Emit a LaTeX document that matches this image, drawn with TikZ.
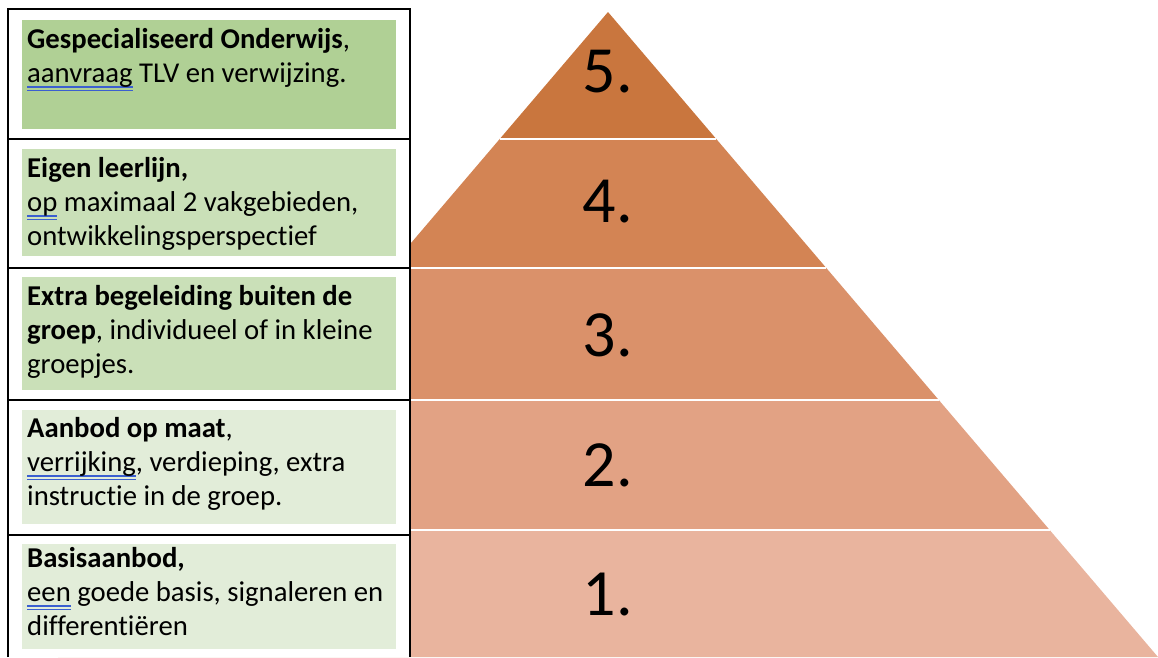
\documentclass[tikz,border=0pt]{standalone}
\usepackage{fontspec}
\setmainfont{Carlito}[Ligatures=NoCommon]
\usepackage{tikz}

\definecolor{levelfive}{HTML}{C9763E}
\definecolor{levelfour}{HTML}{D38454}
\definecolor{levelthree}{HTML}{DA916A}
\definecolor{leveltwo}{HTML}{E2A284}
\definecolor{levelone}{HTML}{E9B49E}
\definecolor{greendark}{HTML}{B0D095}
\definecolor{greenmid}{HTML}{CAE0B8}
\definecolor{greenlight}{HTML}{E2EDD9}
\definecolor{spellblue}{HTML}{3B5FD0}

\newsavebox{\spellbox}
\newcommand{\spellmark}[1]{\sbox{\spellbox}{#1}\rlap{\textcolor{spellblue}{\rule[-5pt]{\wd\spellbox}{1.1pt}}}\rlap{\textcolor{spellblue}{\rule[-8.5pt]{\wd\spellbox}{1.1pt}}}\usebox{\spellbox}}

\begin{document}
\begin{tikzpicture}[x=1pt, y=-1pt,
    levelnum/.style={font=\fontsize{66}{66}\selectfont, inner sep=0},
    celltext/.style={anchor=north west, inner sep=0, align=left, font=\fontsize{28.7}{34}\selectfont},
    gap/.style={white, line width=2.5pt},
    rule/.style={black, line width=1.1pt}]
    \useasboundingbox (0,0) rectangle (1158,657);

    \fill[levelone] (58,657) -- (166.3,530) -- (1049.7,530) -- (1158,657) -- cycle;
    \fill[leveltwo] (166.3,530) -- (277.2,400) -- (938.8,400) -- (1049.7,530) -- cycle;
    \fill[levelthree] (277.2,400) -- (389.7,268) -- (826.3,268) -- (938.8,400) -- cycle;
    \fill[levelfour] (389.7,268) -- (499.7,139) -- (716.3,139) -- (826.3,268) -- cycle;
    \fill[levelfive] (499.7,139) -- (608,12) -- (716.3,139) -- cycle;
    \draw[gap] (499.7,139) -- (716.3,139);
    \draw[gap] (389.7,268) -- (826.3,268);
    \draw[gap] (277.2,400) -- (938.8,400);
    \draw[gap] (166.3,530) -- (1049.7,530);

    \node[levelnum] (n5) at (608,72) {5.};
    \node[levelnum] (n4) at (608,202) {4.};
    \node[levelnum] (n3) at (608,335) {3.};
    \node[levelnum] (n2) at (608,465) {2.};
    \node[levelnum] (n1) at (608,595) {1.};

    \fill[white] (8,9) rectangle (410,657);
    \fill[greendark] (22,20) rectangle (396,129);
    \fill[greenmid] (22,149) rectangle (396,256);
    \fill[greenmid] (22,277) rectangle (396,390);
    \fill[greenlight] (22,410) rectangle (396,524);
    \fill[greenlight] (22,544) rectangle (396,649);
    \draw[rule] (8,657) -- (8,9) -- (410,9) -- (410,657);
    \draw[rule] (8,139) -- (410,139);
    \draw[rule] (8,268) -- (410,268);
    \draw[rule] (8,400) -- (410,400);
    \draw[rule] (8,535) -- (410,535);

    \node[celltext] (t5) at (27,24.5) {\strut\textbf{Gespecialiseerd Onderwijs},\\ \spellmark{aanvraag} TLV en verwijzing.};
    \node[celltext] (t4) at (27,153.5) {\strut\textbf{Eigen leerlijn,}\\ \spellmark{op} maximaal 2 vakgebieden,\\ ontwikkelingsperspectief};
    \node[celltext] (t3) at (27,281.5) {\strut\textbf{Extra begeleiding buiten de}\\ \textbf{groep}, individueel of in kleine\\ groepjes.};
    \node[celltext] (t2) at (27,413.5) {\strut\textbf{Aanbod op maat},\\ \spellmark{verrijking}, verdieping, extra\\ instructie in de groep.};
    \node[celltext] (t1) at (27,543.5) {\strut\textbf{Basisaanbod,}\\ \spellmark{een} goede basis, signaleren en\\ differentiëren};
\end{tikzpicture}
\end{document}
